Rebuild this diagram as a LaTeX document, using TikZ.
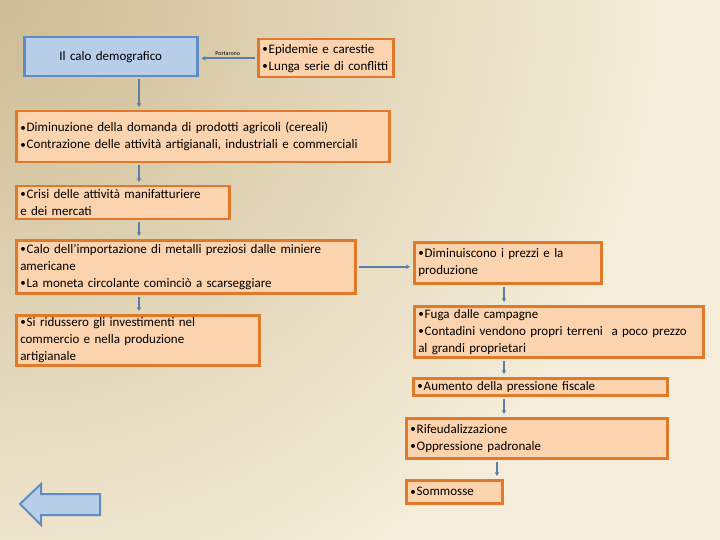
\documentclass[tikz,border=0pt]{standalone}
\usepackage{fontspec}
\setmainfont{Carlito}
\usetikzlibrary{arrows.meta}

\definecolor{sfondoscuro}{HTML}{CDBC94}
\definecolor{sfondochiaro}{HTML}{F5EDD9}
\definecolor{bordoarancio}{HTML}{E07A2A}
\definecolor{riempiarancio}{HTML}{FBD3AE}
\definecolor{bordoblu}{HTML}{5E8DC6}
\definecolor{riempiblu}{HTML}{B8CDE8}
\definecolor{colfreccia}{HTML}{5B7FA6}

\newcommand{\punto}{\raisebox{0.8pt}{\fontsize{11}{11}\selectfont•}\kern1pt}

\tikzset{
  box/.style={draw=bordoarancio, fill=riempiarancio, line width=2.5pt, anchor=north west,
    align=left, inner xsep=4pt, inner ysep=0pt, font=\fontsize{13}{17}\selectfont},
  boxblu/.style={box, draw=bordoblu, fill=riempiblu, align=center},
  collega/.style={draw=colfreccia, line width=1.5pt, -{Stealth[length=4pt,width=4.5pt]},
    shorten >=3pt, shorten <=2pt},
}

\begin{document}
\begin{tikzpicture}[x=1pt,y=-1pt]
            \useasboundingbox (0,0) rectangle (720,540);
            \fill [sfondochiaro] (0,0) rectangle (720,540);
            \begin{scope}
              \clip (0,0) rectangle (720,540);
              \shade [inner color = sfondoscuro, outer color = sfondochiaro] (0,0) circle (660);
            \end{scope}
            % colonna sinistra
            \node [boxblu, text width = 165, minimum height = 39] (demo) at (23,36) {Il calo demografico};
            \node [box, text width = 127, minimum height = 38] (epid) at (257,38) {\punto Epidemie e carestie\\\punto Lunga serie di conflitti};
            \node [box, text width = 365, minimum height = 51] (dim) at (15,110) {\punto Diminuzione della domanda di prodotti agricoli (cereali)\\\punto Contrazione delle attività artigianali, industriali e commerciali};
            \node [box, text width = 205, minimum height = 33] (crisi) at (15,185) {\punto Crisi delle attività manifatturiere\\e dei mercati};
            \node [box, text width = 331, minimum height = 53] (calo) at (15,239) {\punto Calo dell’importazione di metalli preziosi dalle miniere\\americane\\\punto La moneta circolante cominciò a scarseggiare};
            \node [box, text width = 235, minimum height = 50] (ridussero) at (15,314) {\punto Si ridussero gli investimenti nel\\commercio e nella produzione\\artigianale};
            % colonna destra
            \node [box, text width = 179, minimum height = 41] (prezzi) at (413,241) {\punto Diminuiscono i prezzi e la\\produzione};
            \node [box, text width = 281, minimum height = 51] (fuga) at (413,305) {\punto Fuga dalle campagne\\\punto Contadini vendono propri terreni \ a poco prezzo\\al grandi proprietari};
            \node [box, text width = 246, minimum height = 17] (aumento) at (412,377) {\punto Aumento della pressione fiscale};
            \node [box, text width = 253, minimum height = 40] (rifeud) at (405,417) {\punto Rifeudalizzazione\\\punto Oppressione padronale};
            \node [box, text width = 88, minimum height = 23] (sommosse) at (405,479) {\punto Sommosse};
            % frecce
            \coordinate (colA) at (139,0);
            \coordinate (colB) at (504,0);
            \coordinate (colC) at (497,0);
            \draw [collega] (epid.west) -- node [above, inner sep = 1.5pt, font = \fontsize{6}{7}\selectfont] (portarono) {Portarono} (epid.west -| demo.east);
            \draw [collega] (demo.south -| colA) -- (dim.north -| colA);
            \draw [collega] (dim.south -| colA) -- (crisi.north -| colA);
            \draw [collega] (crisi.south -| colA) -- (calo.north -| colA);
            \draw [collega] (calo.south -| colA) -- (ridussero.north -| colA);
            \draw [collega] (calo.east) -- (calo.east -| prezzi.west);
            \draw [collega] (prezzi.south -| colB) -- (fuga.north -| colB);
            \draw [collega] (fuga.south -| colB) -- (aumento.north -| colB);
            \draw [collega] (aumento.south -| colB) -- (rifeud.north -| colB);
            \draw [collega] (rifeud.south -| colC) -- (sommosse.north -| colC);
            % freccia indietro
            \draw [draw = bordoblu, fill = riempiblu, line width = 2pt, line join = miter] (20,504) -- (41,484) -- (41,494) -- (100,494) -- (100,515) -- (41,515) -- (41,525) -- cycle;
        \end{tikzpicture}
\end{document}
